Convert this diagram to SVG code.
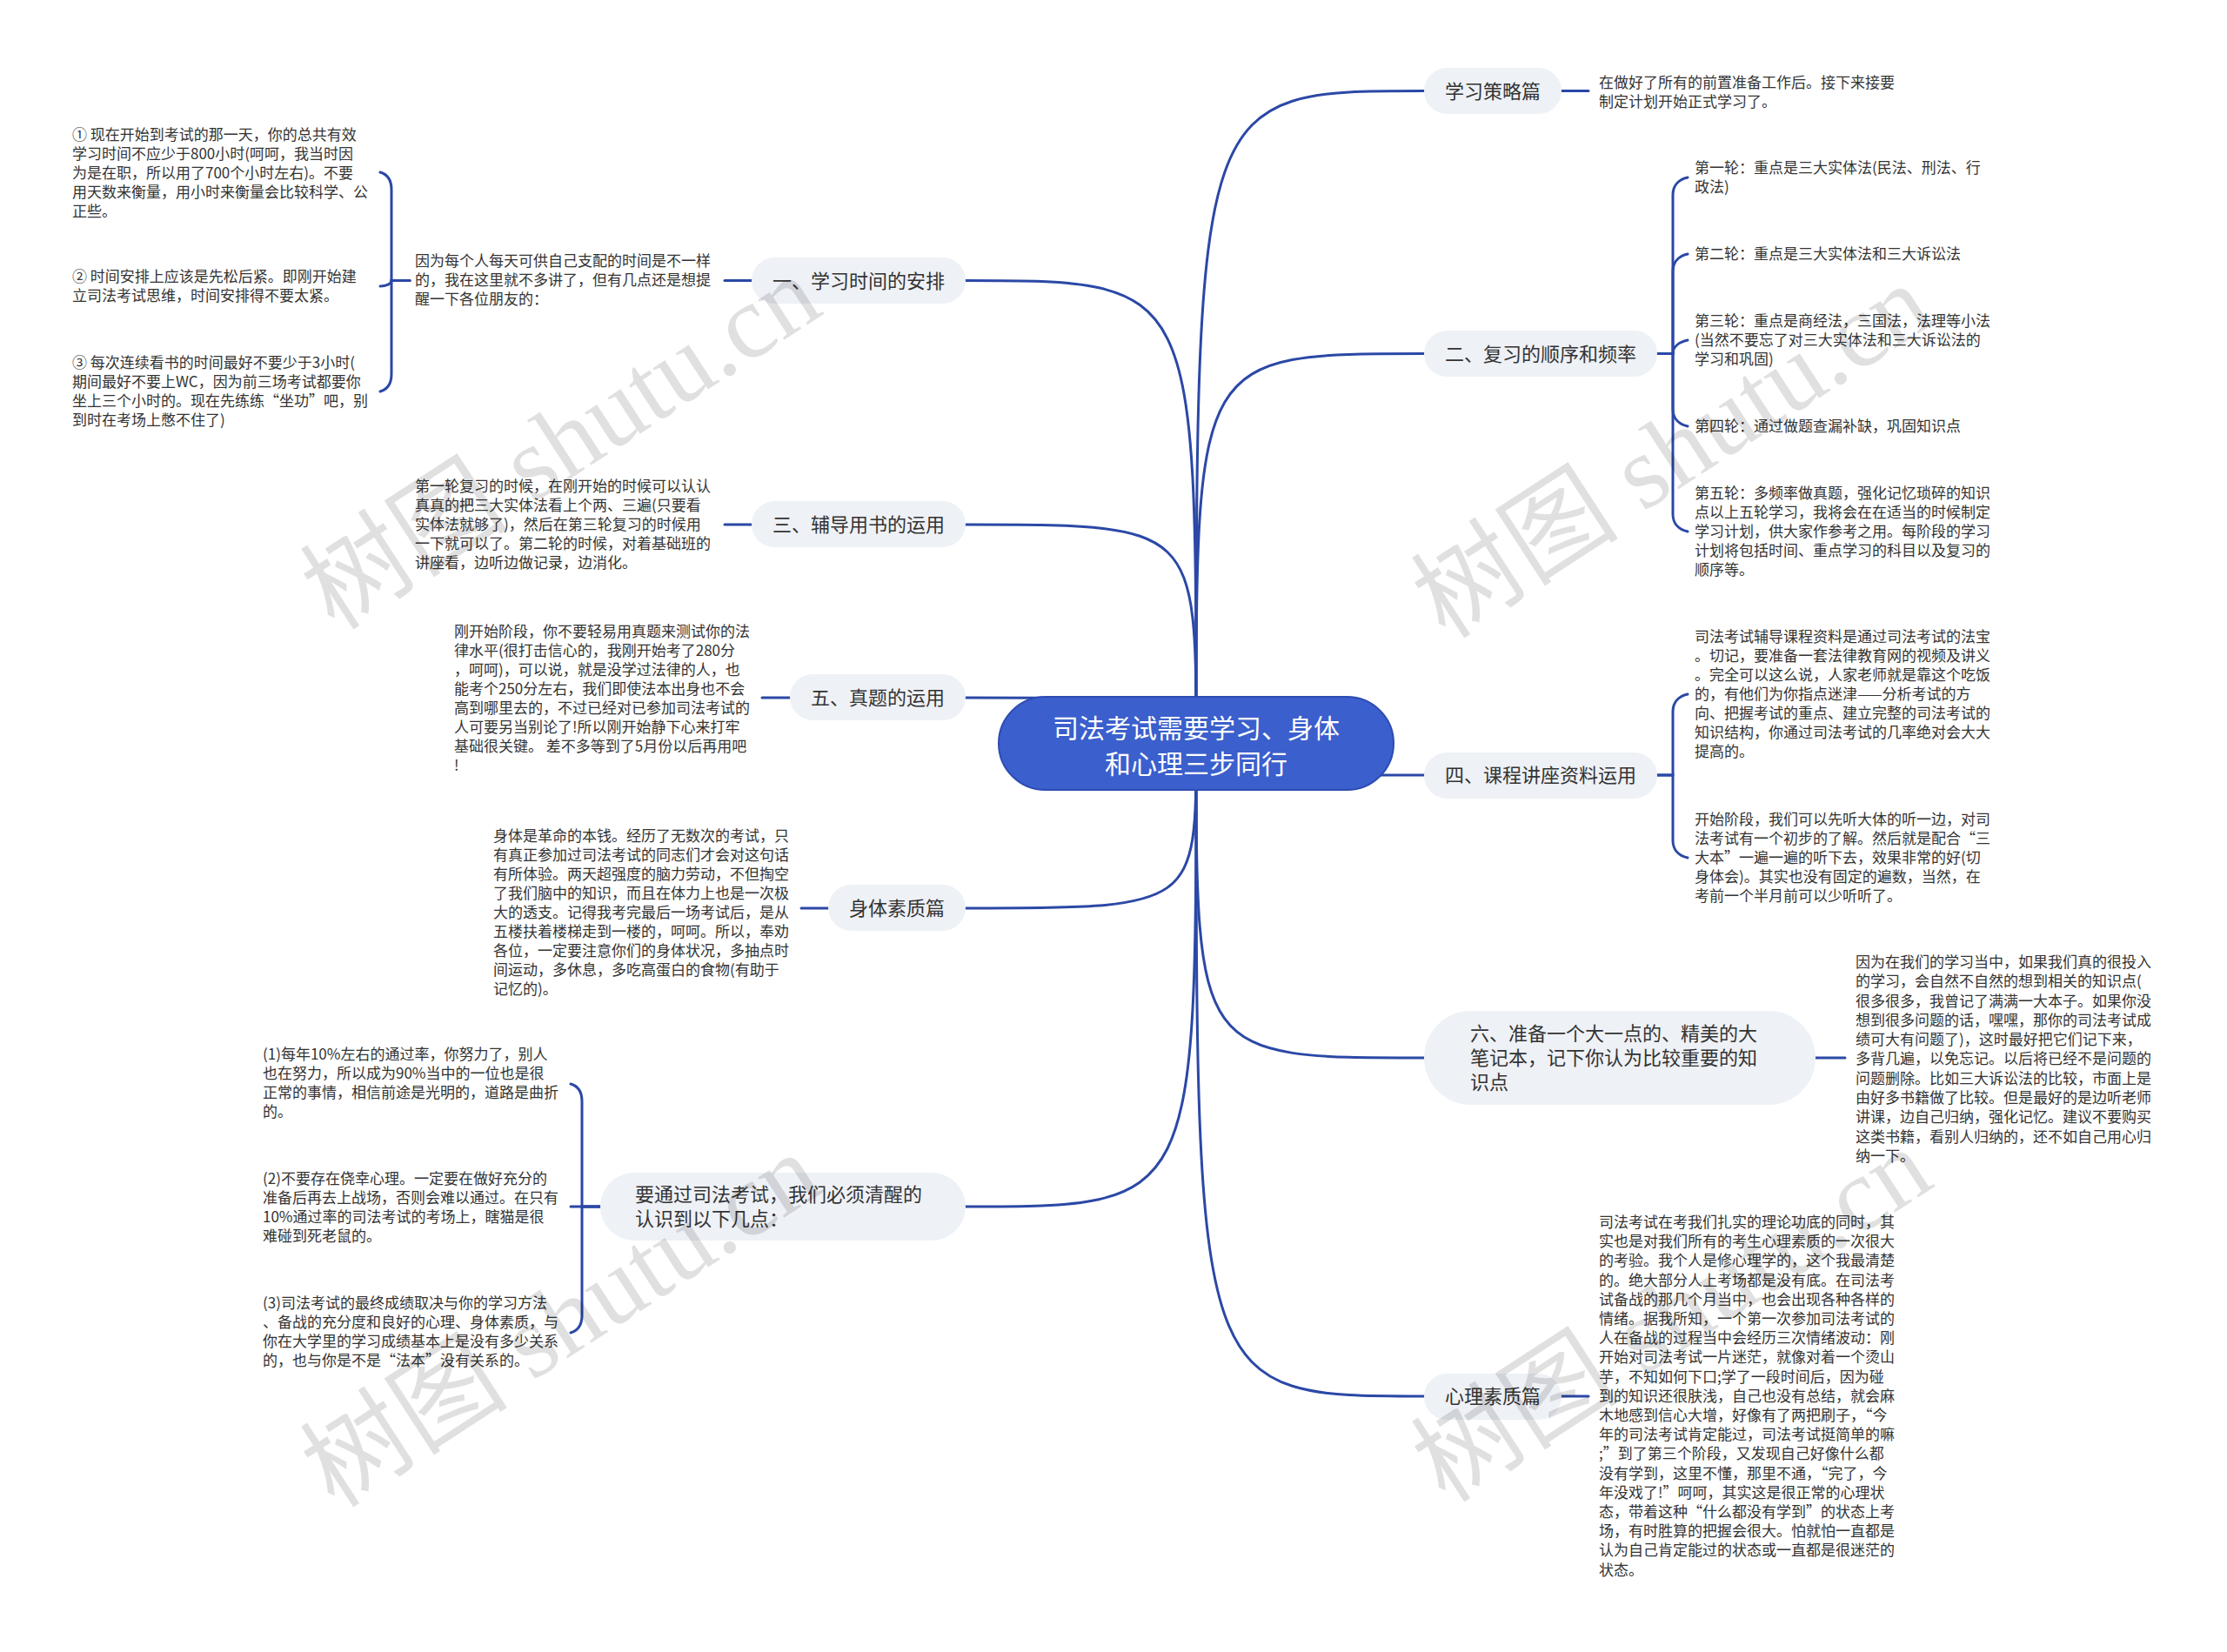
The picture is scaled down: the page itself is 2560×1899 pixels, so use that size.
<svg xmlns="http://www.w3.org/2000/svg" width="2560" height="1899" viewBox="0 0 2560 1899">
<defs>
<style>
.conn{fill:none;stroke:#2b48a6;stroke-width:3;stroke-linecap:round}
.box{fill:#eef1f6}
.nt{font-family:"Noto Sans CJK SC","Noto Sans",sans-serif;font-size:22px;fill:#333}
.ct{font-family:"Noto Sans CJK SC","Noto Sans",sans-serif;font-size:17px;fill:#333}
.rbox{fill:#3b5fcc;stroke:#2d4cb3;stroke-width:2}
.rt{font-family:"Noto Sans CJK SC","Noto Sans",sans-serif;font-size:30px;fill:#fff;text-anchor:middle}
.wm{font-family:"Liberation Serif","Noto Sans CJK SC",serif;font-size:120px;fill:#000;fill-opacity:0.12;text-anchor:middle;dominant-baseline:central}
</style>
</defs>
<rect width="2560" height="1899" fill="#fff"/>

<g id="connectors">
<path class="conn" d="M1375 855 C1375 104.5 1375 104.5 1637 104.5"/>
<path class="conn" d="M1375 855 C1375 406.5 1375 406.5 1637 406.5"/>
<path class="conn" d="M1375 855 C1375 891 1375 891 1637 891"/>
<path class="conn" d="M1375 855 C1375 1216 1375 1216 1637 1216"/>
<path class="conn" d="M1375 855 C1375 1605 1375 1605 1637 1605"/>
<path class="conn" d="M1375 855 C1375 322.5 1375 322.5 1110 322.5"/>
<path class="conn" d="M1375 855 C1375 603 1375 603 1110 603"/>
<path class="conn" d="M1375 855 C1375 802 1375 802 1110 802"/>
<path class="conn" d="M1375 855 C1375 1044 1375 1044 1110 1044"/>
<path class="conn" d="M1375 855 C1375 1387 1375 1387 1110 1387"/>
<path class="conn" d="M1795 104.5 H1826"/>
<path class="conn" d="M1905 406.5 H1923 V224 C1923 212 1931 206 1940 204"/>
<path class="conn" d="M1905 406.5 H1923 V312 C1923 300 1931 294 1940 292"/>
<path class="conn" d="M1905 406.5 H1923 C1923 398 1931 393 1940 391"/>
<path class="conn" d="M1905 406.5 H1923 V470 C1923 482 1931 488 1940 490"/>
<path class="conn" d="M1905 406.5 H1923 V591 C1923 603 1931 609 1940 611"/>
<path class="conn" d="M1905 891 H1923 V818 C1923 806 1931 800 1940 798"/>
<path class="conn" d="M1905 891 H1923 V966 C1923 978 1931 984 1940 986"/>
<path class="conn" d="M2087 1216 H2121"/>
<path class="conn" d="M1795 1605 H1826"/>
<path class="conn" d="M864 322.5 H833"/>
<path class="conn" d="M471 322.5 H450 V218 C450 206 444 200 437 198"/>
<path class="conn" d="M471 322.5 H450 C450 326 444 329 437 329"/>
<path class="conn" d="M471 322.5 H450 V430 C450 442 444 448 437 450"/>
<path class="conn" d="M864 603 H833"/>
<path class="conn" d="M908 802 H876"/>
<path class="conn" d="M952 1044 H921"/>
<path class="conn" d="M690 1387 H669 V1266 C669 1254 663 1248 656 1246"/>
<path class="conn" d="M690 1387 H656"/>
<path class="conn" d="M690 1387 H669 V1512 C669 1524 663 1530 656 1532"/>
</g>

<g id="root">
<rect class="rbox" x="1148" y="801" width="454" height="107" rx="53.5"/>
<text class="rt"><tspan x="1375" y="848">司法考试需要学习、身体</tspan><tspan x="1375" y="889">和心理三步同行</tspan></text>
</g>

<g id="n-celue">
<rect class="box" x="1637" y="78" width="158" height="53" rx="26.5"/>
<text class="nt" x="1661" y="112.5">学习策略篇</text>
</g>
<g id="t-celue">
<text class="ct"><tspan x="1838" y="101">在做好了所有的前置准备工作后。接下来接要</tspan><tspan x="1838" y="123">制定计划开始正式学习了。</tspan></text>
</g>

<g id="n-fuxi">
<rect class="box" x="1637" y="380" width="268" height="53" rx="26.5"/>
<text class="nt" x="1661" y="414.5">二、复习的顺序和频率</text>
</g>
<g id="t-lun1"><text class="ct"><tspan x="1948" y="199">第一轮：重点是三大实体法(民法、刑法、行</tspan><tspan x="1948" y="221">政法)</tspan></text></g>
<g id="t-lun2"><text class="ct" x="1948" y="298">第二轮：重点是三大实体法和三大诉讼法</text></g>
<g id="t-lun3"><text class="ct"><tspan x="1948" y="375">第三轮：重点是商经法，三国法，法理等小法</tspan><tspan x="1948" y="397">(当然不要忘了对三大实体法和三大诉讼法的</tspan><tspan x="1948" y="419">学习和巩固)</tspan></text></g>
<g id="t-lun4"><text class="ct" x="1948" y="496">第四轮：通过做题查漏补缺，巩固知识点</text></g>
<g id="t-lun5"><text class="ct"><tspan x="1948" y="573">第五轮：多频率做真题，强化记忆琐碎的知识</tspan><tspan x="1948" y="595">点以上五轮学习，我将会在在适当的时候制定</tspan><tspan x="1948" y="617">学习计划，供大家作参考之用。每阶段的学习</tspan><tspan x="1948" y="639">计划将包括时间、重点学习的科目以及复习的</tspan><tspan x="1948" y="661">顺序等。</tspan></text></g>

<g id="n-kecheng">
<rect class="box" x="1637" y="865" width="268" height="53" rx="26.5"/>
<text class="nt" x="1661" y="899">四、课程讲座资料运用</text>
</g>
<g id="t-kc1"><text class="ct"><tspan x="1948" y="738">司法考试辅导课程资料是通过司法考试的法宝</tspan><tspan x="1948" y="760">。切记，要准备一套法律教育网的视频及讲义</tspan><tspan x="1948" y="782">。完全可以这么说，人家老师就是靠这个吃饭</tspan><tspan x="1948" y="804">的，有他们为你指点迷津——分析考试的方</tspan><tspan x="1948" y="826">向、把握考试的重点、建立完整的司法考试的</tspan><tspan x="1948" y="848">知识结构，你通过司法考试的几率绝对会大大</tspan><tspan x="1948" y="870">提高的。</tspan></text></g>
<g id="t-kc2"><text class="ct"><tspan x="1948" y="948">开始阶段，我们可以先听大体的听一边，对司</tspan><tspan x="1948" y="970">法考试有一个初步的了解。然后就是配合“三</tspan><tspan x="1948" y="992">大本”一遍一遍的听下去，效果非常的好(切</tspan><tspan x="1948" y="1014">身体会)。其实也没有固定的遍数，当然，在</tspan><tspan x="1948" y="1036">考前一个半月前可以少听听了。</tspan></text></g>

<g id="n-biji">
<rect class="box" x="1637" y="1162" width="450" height="108" rx="54"/>
<text class="nt"><tspan x="1690" y="1196">六、准备一个大一点的、精美的大</tspan><tspan x="1690" y="1224">笔记本，记下你认为比较重要的知</tspan><tspan x="1690" y="1252">识点</tspan></text>
</g>
<g id="t-biji"><text class="ct"><tspan x="2133" y="1112">因为在我们的学习当中，如果我们真的很投入</tspan><tspan x="2133" y="1134">的学习，会自然不自然的想到相关的知识点(</tspan><tspan x="2133" y="1157">很多很多，我曾记了满满一大本子。如果你没</tspan><tspan x="2133" y="1179">想到很多问题的话，嘿嘿，那你的司法考试成</tspan><tspan x="2133" y="1201">绩可大有问题了)，这时最好把它们记下来，</tspan><tspan x="2133" y="1223">多背几遍，以免忘记。以后将已经不是问题的</tspan><tspan x="2133" y="1246">问题删除。比如三大诉讼法的比较，市面上是</tspan><tspan x="2133" y="1268">由好多书籍做了比较。但是最好的是边听老师</tspan><tspan x="2133" y="1290">讲课，边自己归纳，强化记忆。建议不要购买</tspan><tspan x="2133" y="1313">这类书籍，看别人归纳的，还不如自己用心归</tspan><tspan x="2133" y="1335">纳一下。</tspan></text></g>

<g id="n-xinli">
<rect class="box" x="1637" y="1579" width="158" height="53" rx="26.5"/>
<text class="nt" x="1661" y="1613">心理素质篇</text>
</g>
<g id="t-xinli"><text class="ct"><tspan x="1838" y="1411">司法考试在考我们扎实的理论功底的同时，其</tspan><tspan x="1838" y="1433">实也是对我们所有的考生心理素质的一次很大</tspan><tspan x="1838" y="1455">的考验。我个人是修心理学的，这个我最清楚</tspan><tspan x="1838" y="1478">的。绝大部分人上考场都是没有底。在司法考</tspan><tspan x="1838" y="1500">试备战的那几个月当中，也会出现各种各样的</tspan><tspan x="1838" y="1522">情绪。据我所知，一个第一次参加司法考试的</tspan><tspan x="1838" y="1544">人在备战的过程当中会经历三次情绪波动：刚</tspan><tspan x="1838" y="1566">开始对司法考试一片迷茫，就像对着一个烫山</tspan><tspan x="1838" y="1589">芋，不知如何下口;学了一段时间后，因为碰</tspan><tspan x="1838" y="1611">到的知识还很肤浅，自己也没有总结，就会麻</tspan><tspan x="1838" y="1633">木地感到信心大增，好像有了两把刷子，“今</tspan><tspan x="1838" y="1655">年的司法考试肯定能过，司法考试挺简单的嘛</tspan><tspan x="1838" y="1677">;”到了第三个阶段，又发现自己好像什么都</tspan><tspan x="1838" y="1700">没有学到，这里不懂，那里不通，“完了，今</tspan><tspan x="1838" y="1722">年没戏了!”呵呵，其实这是很正常的心理状</tspan><tspan x="1838" y="1744">态，带着这种“什么都没有学到”的状态上考</tspan><tspan x="1838" y="1766">场，有时胜算的把握会很大。怕就怕一直都是</tspan><tspan x="1838" y="1788">认为自己肯定能过的状态或一直都是很迷茫的</tspan><tspan x="1838" y="1811">状态。</tspan></text></g>

<g id="n-shijian">
<rect class="box" x="864" y="296" width="246" height="53" rx="26.5"/>
<text class="nt" x="888" y="330.5">一、学习时间的安排</text>
</g>
<g id="t-shijian"><text class="ct"><tspan x="477" y="306">因为每个人每天可供自己支配的时间是不一样</tspan><tspan x="477" y="328">的，我在这里就不多讲了，但有几点还是想提</tspan><tspan x="477" y="350">醒一下各位朋友的：</tspan></text></g>
<g id="t-sj1"><text class="ct"><tspan x="83" y="161">① 现在开始到考试的那一天，你的总共有效</tspan><tspan x="83" y="183">学习时间不应少于800小时(呵呵，我当时因</tspan><tspan x="83" y="205">为是在职，所以用了700个小时左右)。不要</tspan><tspan x="83" y="227">用天数来衡量，用小时来衡量会比较科学、公</tspan><tspan x="83" y="249">正些。</tspan></text></g>
<g id="t-sj2"><text class="ct"><tspan x="83" y="324">② 时间安排上应该是先松后紧。即刚开始建</tspan><tspan x="83" y="346">立司法考试思维，时间安排得不要太紧。</tspan></text></g>
<g id="t-sj3"><text class="ct"><tspan x="83" y="423">③ 每次连续看书的时间最好不要少于3小时(</tspan><tspan x="83" y="445">期间最好不要上WC，因为前三场考试都要你</tspan><tspan x="83" y="467">坐上三个小时的。现在先练练“坐功”吧，别</tspan><tspan x="83" y="489">到时在考场上憋不住了)</tspan></text></g>

<g id="n-fudao">
<rect class="box" x="864" y="576" width="246" height="53" rx="26.5"/>
<text class="nt" x="888" y="611">三、辅导用书的运用</text>
</g>
<g id="t-fudao"><text class="ct"><tspan x="477" y="565">第一轮复习的时候，在刚开始的时候可以认认</tspan><tspan x="477" y="587">真真的把三大实体法看上个两、三遍(只要看</tspan><tspan x="477" y="609">实体法就够了)，然后在第三轮复习的时候用</tspan><tspan x="477" y="631">一下就可以了。第二轮的时候，对着基础班的</tspan><tspan x="477" y="653">讲座看，边听边做记录，边消化。</tspan></text></g>

<g id="n-zhenti">
<rect class="box" x="908" y="775" width="202" height="53" rx="26.5"/>
<text class="nt" x="932" y="810">五、真题的运用</text>
</g>
<g id="t-zhenti"><text class="ct"><tspan x="522" y="732">刚开始阶段，你不要轻易用真题来测试你的法</tspan><tspan x="522" y="754">律水平(很打击信心的，我刚开始考了280分</tspan><tspan x="522" y="776">，呵呵)，可以说，就是没学过法律的人，也</tspan><tspan x="522" y="798">能考个250分左右，我们即使法本出身也不会</tspan><tspan x="522" y="820">高到哪里去的，不过已经对已参加司法考试的</tspan><tspan x="522" y="842">人可要另当别论了!所以刚开始静下心来打牢</tspan><tspan x="522" y="864">基础很关键。 差不多等到了5月份以后再用吧</tspan><tspan x="522" y="886">!</tspan></text></g>

<g id="n-shenti">
<rect class="box" x="952" y="1017" width="158" height="53" rx="26.5"/>
<text class="nt" x="976" y="1052">身体素质篇</text>
</g>
<g id="t-shenti"><text class="ct"><tspan x="567" y="967">身体是革命的本钱。经历了无数次的考试，只</tspan><tspan x="567" y="989">有真正参加过司法考试的同志们才会对这句话</tspan><tspan x="567" y="1011">有所体验。两天超强度的脑力劳动，不但掏空</tspan><tspan x="567" y="1033">了我们脑中的知识，而且在体力上也是一次极</tspan><tspan x="567" y="1055">大的透支。记得我考完最后一场考试后，是从</tspan><tspan x="567" y="1077">五楼扶着楼梯走到一楼的，呵呵。所以，奉劝</tspan><tspan x="567" y="1099">各位，一定要注意你们的身体状况，多抽点时</tspan><tspan x="567" y="1121">间运动，多休息，多吃高蛋白的食物(有助于</tspan><tspan x="567" y="1143">记忆的)。</tspan></text></g>

<g id="n-renshi">
<rect class="box" x="690" y="1348" width="420" height="78" rx="39"/>
<text class="nt"><tspan x="730" y="1381">要通过司法考试，我们必须清醒的</tspan><tspan x="730" y="1409">认识到以下几点：</tspan></text>
</g>
<g id="t-rs1"><text class="ct"><tspan x="302" y="1218">(1)每年10%左右的通过率，你努力了，别人</tspan><tspan x="302" y="1240">也在努力，所以成为90%当中的一位也是很</tspan><tspan x="302" y="1262">正常的事情，相信前途是光明的，道路是曲折</tspan><tspan x="302" y="1284">的。</tspan></text></g>
<g id="t-rs2"><text class="ct"><tspan x="302" y="1361">(2)不要存在侥幸心理。一定要在做好充分的</tspan><tspan x="302" y="1383">准备后再去上战场，否则会难以通过。在只有</tspan><tspan x="302" y="1405">10%通过率的司法考试的考场上，瞎猫是很</tspan><tspan x="302" y="1427">难碰到死老鼠的。</tspan></text></g>
<g id="t-rs3"><text class="ct"><tspan x="302" y="1504">(3)司法考试的最终成绩取决与你的学习方法</tspan><tspan x="302" y="1526">、备战的充分度和良好的心理、身体素质，与</tspan><tspan x="302" y="1548">你在大学里的学习成绩基本上是没有多少关系</tspan><tspan x="302" y="1570">的，也与你是不是“法本”没有关系的。</tspan></text></g>

<g id="watermarks">
<text class="wm" transform="translate(645 509) rotate(-33)">树图 shutu.cn</text>
<text class="wm" transform="translate(1922 519) rotate(-33)">树图 shutu.cn</text>
<text class="wm" transform="translate(645 1518) rotate(-33)">树图 shutu.cn</text>
<text class="wm" transform="translate(1922 1512) rotate(-33)">树图 shutu.cn</text>
</g>
</svg>
